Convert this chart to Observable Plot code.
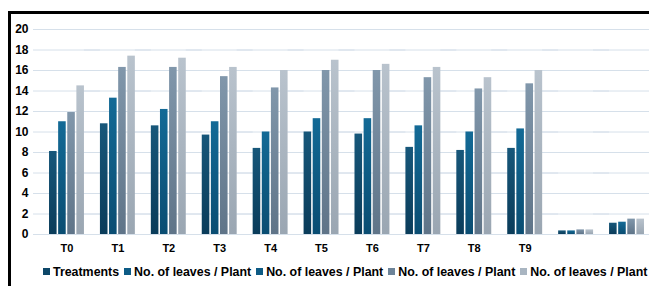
<!DOCTYPE html>
<html>
<head>
<meta charset="utf-8">
<script src="https://cdn.jsdelivr.net/npm/d3@7"></script>
<script src="https://cdn.jsdelivr.net/npm/@observablehq/plot@0.6"></script>
<style>
  html, body { margin: 0; padding: 0; background: #fff; width: 649px; height: 286px; overflow: hidden; }
  #frame { position: absolute; left: 8px; top: 11px; width: 638px; height: 272px; border-left: 3px solid #000; border-top: 3px solid #000; }
  #chart { position: absolute; left: 0; top: 0; width: 649px; height: 286px; overflow: hidden; }
  #chart svg { max-width: none !important; }
  #legend { position: absolute; left: 43px; top: 265px; font: bold 12.4px "Liberation Sans", Arial, sans-serif; color: #000; white-space: nowrap; }
  #legend span.item { margin-right: 5px; }
  #legend span.sw { display: inline-block; width: 7px; height: 7px; margin-right: 3px; vertical-align: 1px; }
</style>
</head>
<body>
<div id="frame"></div>
<div id="chart"></div>
<div id="legend"></div>
<script>
const categories = ["T0","T1","T2","T3","T4","T5","T6","T7","T8","T9","",""];
const series = ["Series 1","Series 2","Series 3","Series 4"];
const s1 = [8.1, 10.8, 10.6, 9.7, 8.4, 10.0, 9.8, 8.5, 8.2, 8.4, 0.35, 1.1];
const s2 = [11.0, 13.3, 12.2, 11.0, 10.0, 11.3, 11.3, 10.6, 10.0, 10.3, 0.35, 1.2];
const s3 = [11.9, 16.3, 16.3, 15.4, 14.3, 16.0, 16.0, 15.3, 14.2, 14.7, 0.45, 1.5];
const s4 = [14.5, 17.4, 17.2, 16.3, 16.0, 17.0, 16.6, 16.3, 15.3, 16.0, 0.45, 1.5];
const yTicks = [0,2,4,6,8,10,12,14,16,18,20];
const legendLabels = ["Treatments","No. of leaves / Plant","No. of leaves / Plant","No. of leaves / Plant","No. of leaves / Plant"];
const legendColors = ["#0d4768","#0d5b85","#0d5b85","#6d8499","#a9b5c1"];
const barTop = ["#17577a","#136a96","#8197ab","#b9c3cd"];
const barBottom = ["#0a3c5a","#0a4d72","#5f7488","#9aa6b2"];

const keys = categories.map((c, i) => c === "" ? "blank" + i : c);
const data = [];
keys.forEach((k, i) => {
  [s1, s2, s3, s4].forEach((arr, j) => data.push({cat: k, series: series[j], value: arr[i]}));
});

const chart = Plot.plot({
  width: 660,
  height: 260,
  marginLeft: 34,
  marginRight: 1,
  marginTop: 29,
  marginBottom: 26,
  style: {background: "transparent", fontFamily: "Liberation Sans, Arial, sans-serif", maxWidth: "none"},
  fx: {domain: keys, paddingInner: 0.314, paddingOuter: 0.295, round: false, label: null},
  x: {domain: series, paddingInner: 0.17, paddingOuter: 0, round: false, axis: null},
  y: {domain: [0, 20], ticks: yTicks, label: null},
  color: {domain: series, range: series.map((s, i) => `url(#grad${i})`)},
  marks: [
    Plot.ruleY(yTicks, {insetLeft: -16, insetRight: -16, stroke: "#d6e0ea", strokeWidth: 1}),
    Plot.axisY(yTicks, {tickSize: 0, tickPadding: 21, fontSize: 12, fontWeight: "bold", fill: "#000", label: null}),
    Plot.axisFx({anchor: "bottom", tickSize: 0, tickPadding: 10, fontSize: 11, fontWeight: "bold", fill: "#000", label: null, tickFormat: d => d.startsWith("blank") ? "" : d}),
    Plot.barY(data, {fx: "cat", x: "series", y: "value", fill: "series"})
  ]
});

const defs = d3.select(chart).insert("defs", ":first-child");
series.forEach((s, i) => {
  const g = defs.append("linearGradient").attr("id", "grad" + i).attr("x1", 0).attr("y1", 0).attr("x2", 0).attr("y2", 1);
  g.append("stop").attr("offset", "0%").attr("stop-color", barTop[i]);
  g.append("stop").attr("offset", "100%").attr("stop-color", barBottom[i]);
});
document.getElementById("chart").appendChild(chart);

const legend = d3.select("#legend");
legendLabels.forEach((l, i) => {
  const it = legend.append("span").attr("class", "item");
  it.append("span").attr("class", "sw").style("background", legendColors[i]);
  it.append("span").text(l);
});
</script>
</body>
</html>
